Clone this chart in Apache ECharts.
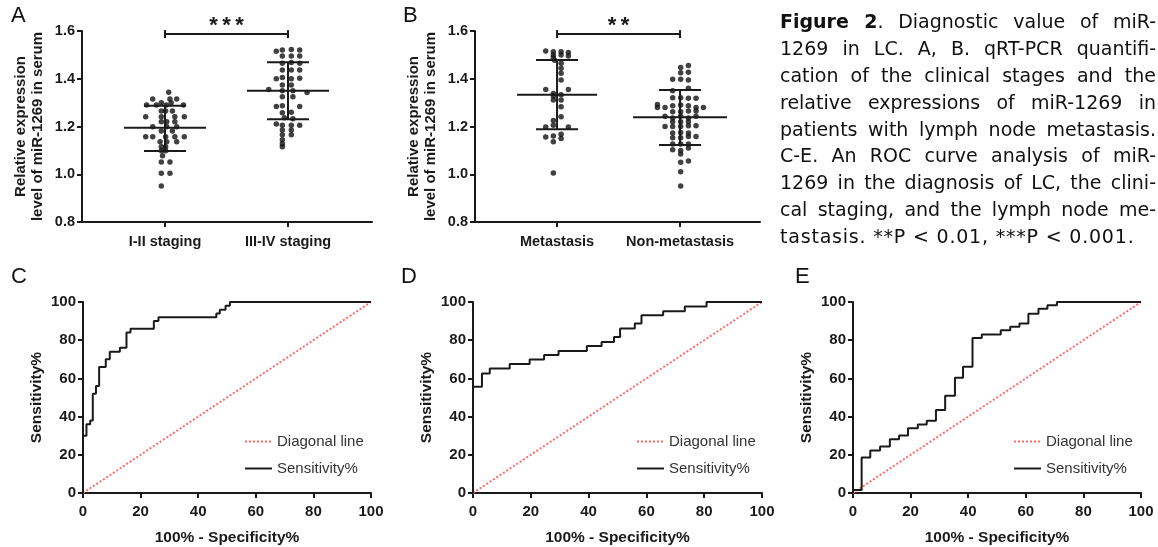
<!DOCTYPE html>
<html>
<head>
<meta charset="utf-8">
<script src="https://cdn.jsdelivr.net/npm/echarts@6/dist/echarts.min.js"></script>
<style>
body{margin:0;background:#fff;}
#main{position:absolute;left:0;top:0;width:1158px;height:547px;}
#caption{position:absolute;left:780px;top:8px;width:376px;font-family:"DejaVu Sans";font-size:19px;line-height:26.9px;color:#111;}
#caption div{text-align:justify;text-align-last:justify;height:26.9px;}
#caption div.last{text-align-last:left;letter-spacing:0.8px;}
</style>
</head>
<body>
<div id="main"></div>
<div id="caption">
  <div><b>Figure 2</b>. Diagnostic value of miR-</div>
  <div>1269 in LC. A, B. qRT-PCR quantifi-</div>
  <div>cation of the clinical stages and the</div>
  <div>relative expressions of miR-1269 in</div>
  <div>patients with lymph node metastasis.</div>
  <div>C-E. An ROC curve analysis of miR-</div>
  <div>1269 in the diagnosis of LC, the clini-</div>
  <div>cal staging, and the lymph node me-</div>
  <div class="last">tastasis. **P &lt; 0.01, ***P &lt; 0.001.</div>
</div>
<script>
// ---- data ----
var catsA = ['I-II staging', 'III-IV staging'];
var catsB = ['Metastasis', 'Non-metastasis'];

// [jitter (category units), relative expression]
var stageLow = [
  [0.03,1.343],
  [-0.10,1.315],[0.04,1.315],[0.095,1.315],
  [-0.03,1.300],[0.05,1.300],
  [-0.15,1.290],[-0.07,1.290],[0.01,1.290],[0.15,1.290],
  [-0.03,1.265],[0.005,1.265],[0.06,1.265],
  [-0.157,1.241],[-0.03,1.241],[0.08,1.241],[0.157,1.241],
  [-0.03,1.220],[0.014,1.220],[0.08,1.220],
  [-0.10,1.199],[0.014,1.199],[0.095,1.199],
  [-0.03,1.181],[0.06,1.181],
  [-0.157,1.157],[-0.10,1.157],[0.005,1.157],[0.08,1.157],[0.157,1.157],
  [-0.04,1.136],[0.014,1.136],[0.095,1.136],
  [-0.03,1.115],[0.005,1.115],
  [-0.03,1.098],[0.005,1.098],
  [-0.02,1.078],
  [-0.03,1.051],[0.04,1.051],
  [-0.03,1.004],[0.04,1.004],
  [-0.03,0.951]
];
var stageHigh = [
  [-0.095,1.515],[-0.046,1.52],[0.027,1.522],[0.095,1.52],
  [-0.046,1.495],[0.027,1.495],[0.095,1.495],
  [-0.046,1.465],[0.027,1.468],[0.095,1.465],
  [-0.046,1.437],[0.027,1.437],[0.095,1.437],
  [-0.095,1.40],[-0.046,1.405],[0.027,1.40],[0.095,1.402],
  [-0.046,1.374],[0.027,1.374],
  [-0.157,1.355],[-0.046,1.35],[0.04,1.35],[0.155,1.342],
  [-0.046,1.325],[0.04,1.325],
  [-0.095,1.284],[-0.046,1.287],[0.095,1.284],
  [-0.046,1.258],[0.027,1.26],
  [-0.03,1.237],[0.04,1.232],
  [-0.095,1.21],[-0.046,1.205],[0.027,1.205],[0.095,1.205],
  [-0.046,1.185],[0.027,1.185],
  [-0.046,1.165],[0.027,1.165],
  [-0.046,1.145],
  [-0.046,1.128],
  [-0.046,1.115]
];
var metastasis = [
  [-0.092,1.516],[-0.03,1.513],[0.033,1.513],[0.092,1.51],
  [-0.03,1.50],[0.033,1.50],[0.092,1.495],
  [-0.03,1.488],[-0.02,1.478],
  [0.033,1.465],
  [0.033,1.444],
  [0.033,1.423],
  [0.033,1.395],
  [-0.092,1.355],[-0.03,1.338],[-0.03,1.328],[0.033,1.333],[0.092,1.355],
  [-0.03,1.311],[0.033,1.311],
  [0.033,1.283],
  [0.033,1.241],
  [-0.03,1.225],[-0.03,1.205],
  [-0.092,1.198],[0.092,1.198],
  [-0.092,1.156],[-0.03,1.16],[0.033,1.168],[0.033,1.15],
  [-0.03,1.136],
  [-0.03,1.005]
];
var nonMetastasis = [
  [0.068,1.455],[0.005,1.447],
  [0.068,1.427],[0.005,1.425],
  [-0.06,1.398],[0.005,1.398],[0.068,1.395],
  [-0.06,1.35],[0.068,1.36],
  [-0.06,1.32],[0.005,1.32],[0.068,1.318],[0.13,1.318],
  [-0.184,1.292],[-0.184,1.28],[-0.122,1.28],[-0.06,1.287],[0.005,1.29],[0.068,1.287],[0.13,1.28],[0.19,1.28],
  [-0.06,1.262],[0.005,1.262],[0.068,1.265],[0.13,1.265],
  [-0.122,1.243],[-0.06,1.236],[0.005,1.243],[0.068,1.236],[0.13,1.243],
  [-0.06,1.22],[0.005,1.22],[0.068,1.22],
  [-0.122,1.2],[-0.06,1.2],[0.005,1.2],[0.068,1.203],[0.13,1.203],
  [-0.06,1.173],[0.005,1.175],[0.068,1.173],
  [-0.06,1.153],[0.005,1.153],[0.068,1.158],[0.13,1.158],
  [-0.06,1.127],[0.005,1.127],[0.068,1.127],
  [-0.06,1.103],[0.005,1.1],[0.068,1.11],
  [0.005,1.085],
  [0.005,1.05],[0.068,1.055],
  [0.005,1.01],
  [0.005,0.951]
];

// mean and SD (low, high) per group
var meanA = [1.195, 1.35], sdLoA = [1.097, 1.23], sdHiA = [1.287, 1.469];
var meanB = [1.333, 1.239], sdLoB = [1.188, 1.123], sdHiB = [1.479, 1.353];

// significance brackets: [from cat, to cat, y]
var sigA = [1, 2, 1.587], sigALabel = '*\u2009*\u2009*';
var sigB = [1, 2, 1.587], sigBLabel = '*\u2009*';

var yTicksScatter = [0.8, 1.6, 0.2];
var xTicksRoc = [0, 100, 20];

// ROC curves: [100% - specificity, sensitivity] vertices
var rocC = [[0,0],[0,30],[1.2,30],[1.2,36],[2.5,36],[2.5,38],[3.4,38],[3.4,52],[4.5,52],[4.5,56],[5.6,56],[5.6,66],[7.9,66],[7.9,70],[9.3,70],[9.3,74],[12.8,74],[12.8,76],[15.1,76],[15.1,84],[16.5,84],[16.5,86],[24.6,86],[24.6,90],[26.2,90],[26.2,92],[46.3,92],[46.3,94],[47.5,94],[47.5,96],[49.5,96],[49.5,98],[51,98],[51,100],[100,100]];
var rocD = [[0,0],[0,55.6],[3.1,55.6],[3.1,62.6],[5.8,62.6],[5.8,65.2],[12.7,65.2],[12.7,67.5],[19.6,67.5],[19.6,69.9],[24.6,69.9],[24.6,72.2],[29.6,72.2],[29.6,74.4],[39.4,74.4],[39.4,76.9],[44.5,76.9],[44.5,79.1],[48.8,79.1],[48.8,81.7],[50.9,81.7],[50.9,86.1],[56,86.1],[56,88.7],[58.3,88.7],[58.3,93],[65.8,93],[65.8,95.1],[73.3,95.1],[73.3,97.7],[80.8,97.7],[80.8,100],[100,100]];
var rocE = [[0,0],[0,1.6],[3.0,1.6],[3.0,18.6],[6.0,18.6],[6.0,22.3],[9.4,22.3],[9.4,24.3],[12.8,24.3],[12.8,28.2],[16.0,28.2],[16.0,30.1],[19.1,30.1],[19.1,33.9],[22.5,33.9],[22.5,35.8],[25.6,35.8],[25.6,37.8],[28.8,37.8],[28.8,43.5],[32,43.5],[32,50.9],[35.4,50.9],[35.4,60.4],[38.2,60.4],[38.2,66.1],[41.5,66.1],[41.5,81.2],[44.7,81.2],[44.7,83],[51.3,83],[51.3,85.2],[54.6,85.2],[54.6,87],[57.8,87],[57.8,88.7],[60.9,88.7],[60.9,93.9],[64.4,93.9],[64.4,96.5],[67.5,96.5],[67.5,98.3],[70.8,98.3],[70.8,100],[100,100]];
var diagonal = [[0,0],[100,100]];

// ---- chart ----
var ink = '#1a1a1a';
var font = 'Liberation Sans';
var chart = echarts.init(document.getElementById('main'));

function toPoints(cat, arr) {
  return arr.map(function (p) { return [cat + p[0], p[1]]; });
}

function scatterX(idx, min, max, cats) {
  return {
    gridIndex: idx, type: 'value', min: min, max: max,
    axisLine: {lineStyle: {color: ink, width: 2}},
    axisTick: {show: true, customValues: [1, 2], length: 5, lineStyle: {color: ink, width: 2}},
    axisLabel: {customValues: [1, 2], margin: 12, fontFamily: font, fontWeight: 'bold', fontSize: 14.5, color: ink,
      formatter: function (v) { return cats[Math.round(v) - 1]; }},
    splitLine: {show: false}
  };
}
function scatterY(idx) {
  return {
    gridIndex: idx, type: 'value', min: yTicksScatter[0], max: yTicksScatter[1], interval: yTicksScatter[2],
    name: 'Relative expression\nlevel of miR-1269 in serum', nameLocation: 'middle', nameGap: 36,
    nameTextStyle: {fontFamily: font, fontWeight: 'bold', fontSize: 15, color: ink, lineHeight: 17},
    axisLine: {show: true, lineStyle: {color: ink, width: 2}},
    axisTick: {show: true, length: 5, lineStyle: {color: ink, width: 2}},
    axisLabel: {margin: 7, fontFamily: font, fontWeight: 'bold', fontSize: 14.5, color: ink,
      formatter: function (v) { return v.toFixed(1); }},
    splitLine: {show: false}
  };
}
function rocX(idx) {
  return {
    gridIndex: idx, type: 'value', min: xTicksRoc[0], max: xTicksRoc[1], interval: xTicksRoc[2],
    name: '100% - Specificity%', nameLocation: 'middle', nameGap: 37,
    nameTextStyle: {fontFamily: font, fontWeight: 'bold', fontSize: 15.5, color: ink},
    axisLine: {lineStyle: {color: ink, width: 2}},
    axisTick: {length: 5, lineStyle: {color: ink, width: 2}},
    axisLabel: {margin: 11, fontFamily: font, fontWeight: 'bold', fontSize: 15, color: ink},
    splitLine: {show: false}
  };
}
function rocY(idx) {
  return {
    gridIndex: idx, type: 'value', min: xTicksRoc[0], max: xTicksRoc[1], interval: xTicksRoc[2],
    name: 'Sensitivity%', nameLocation: 'middle', nameGap: 38,
    nameTextStyle: {fontFamily: font, fontWeight: 'bold', fontSize: 15.5, color: ink},
    axisLine: {show: true, lineStyle: {color: ink, width: 2}},
    axisTick: {show: true, length: 5, lineStyle: {color: ink, width: 2}},
    axisLabel: {margin: 7, fontFamily: font, fontWeight: 'bold', fontSize: 15, color: ink},
    splitLine: {show: false}
  };
}

// mean line + SD bar, drawn through the axis scale
function meanSd(halfWidths) {
  return function (params, api) {
    var c = api.coord([api.value(0), api.value(1)]);
    var lo = api.coord([api.value(0), api.value(2)]);
    var hi = api.coord([api.value(0), api.value(3)]);
    var w = halfWidths[params.dataIndex], cap = 21;
    var st = {stroke: ink, lineWidth: 2};
    return {type: 'group', children: [
      {type: 'line', shape: {x1: c[0] - w, y1: c[1], x2: c[0] + w, y2: c[1]}, style: st},
      {type: 'line', shape: {x1: c[0], y1: lo[1], x2: c[0], y2: hi[1]}, style: st},
      {type: 'line', shape: {x1: c[0] - cap, y1: lo[1], x2: c[0] + cap, y2: lo[1]}, style: st},
      {type: 'line', shape: {x1: c[0] - cap, y1: hi[1], x2: c[0] + cap, y2: hi[1]}, style: st}
    ]};
  };
}
function bracket(label) {
  return function (params, api) {
    var p1 = api.coord([api.value(0), api.value(2)]);
    var p2 = api.coord([api.value(1), api.value(2)]);
    var st = {stroke: ink, lineWidth: 2};
    return {type: 'group', children: [
      {type: 'line', shape: {x1: p1[0], y1: p1[1], x2: p2[0], y2: p2[1]}, style: st},
      {type: 'line', shape: {x1: p1[0], y1: p1[1] - 4, x2: p1[0], y2: p1[1] + 4}, style: st},
      {type: 'line', shape: {x1: p2[0], y1: p2[1] - 4, x2: p2[0], y2: p2[1] + 4}, style: st},
      {type: 'text', x: (p1[0] + p2[0]) / 2, y: p1[1] - 8, style: {text: label, fill: ink,
        fontFamily: font, fontWeight: 'bold', fontSize: 22, align: 'center', verticalAlign: 'middle'}}
    ]};
  };
}
function meanSdData(mean, lo, hi) {
  return [[1, mean[0], lo[0], hi[0]], [2, mean[1], lo[1], hi[1]]];
}
function dots(idx, data) {
  return {type: 'scatter', xAxisIndex: idx, yAxisIndex: idx, data: data, symbolSize: 5.5,
    itemStyle: {color: '#111'}, silent: true, z: 3};
}
function diagSeries(idx) {
  return {name: 'Diagonal line', type: 'line', xAxisIndex: idx, yAxisIndex: idx, data: diagonal,
    symbol: 'none', lineStyle: {color: '#ff6b6b', width: 2, type: 'dotted'}, itemStyle: {color: '#ff6b6b'}, z: 2};
}
function rocSeries(idx, data) {
  return {name: 'Sensitivity%', type: 'line', xAxisIndex: idx, yAxisIndex: idx, data: data,
    symbol: 'none', lineStyle: {color: ink, width: 2}, itemStyle: {color: ink}, z: 3};
}
function legendAt(left, top) {
  return {orient: 'vertical', left: left, top: top, data: ['Diagonal line', 'Sensitivity%'],
    itemWidth: 27, itemHeight: 14, itemGap: 12, selectedMode: false,
    itemStyle: {opacity: 0},
    textStyle: {fontFamily: font, fontSize: 15, color: '#333'}};
}
function letter(t, x, y) {
  return {type: 'text', left: x, top: y, style: {text: t, fontFamily: font, fontSize: 22, fill: '#111'}};
}

var option = {
  animation: false,
  backgroundColor: '#fff',
  grid: [
    {left: 82, top: 31, width: 290, height: 191},
    {left: 475, top: 31, width: 285, height: 191},
    {left: 83, top: 302, width: 288, height: 191},
    {left: 473, top: 302, width: 289, height: 191},
    {left: 853, top: 302, width: 288, height: 191}
  ],
  xAxis: [scatterX(0, 0.325, 2.683, catsA), scatterX(1, 0.333, 2.65, catsB), rocX(2), rocX(3), rocX(4)],
  yAxis: [scatterY(0), scatterY(1), rocY(2), rocY(3), rocY(4)],
  legend: [legendAt(239, 429), legendAt(631, 429), legendAt(1008, 429)],
  graphic: [letter('A', 11, 5), letter('B', 403, 5), letter('C', 11, 266), letter('D', 401, 266), letter('E', 795, 266)],
  series: [
    dots(0, toPoints(1, stageLow).concat(toPoints(2, stageHigh))),
    {type: 'custom', xAxisIndex: 0, yAxisIndex: 0, renderItem: meanSd([41, 41]), data: meanSdData(meanA, sdLoA, sdHiA), z: 4, silent: true},
    {type: 'custom', xAxisIndex: 0, yAxisIndex: 0, renderItem: bracket(sigALabel), data: [sigA], z: 4, silent: true},
    dots(1, toPoints(1, metastasis).concat(toPoints(2, nonMetastasis))),
    {type: 'custom', xAxisIndex: 1, yAxisIndex: 1, renderItem: meanSd([40, 47]), data: meanSdData(meanB, sdLoB, sdHiB), z: 4, silent: true},
    {type: 'custom', xAxisIndex: 1, yAxisIndex: 1, renderItem: bracket(sigBLabel), data: [sigB], z: 4, silent: true},
    diagSeries(2), rocSeries(2, rocC),
    diagSeries(3), rocSeries(3, rocD),
    diagSeries(4), rocSeries(4, rocE)
  ]
};
chart.setOption(option);
window.onresize = chart.resize;
</script>
</body>
</html>
